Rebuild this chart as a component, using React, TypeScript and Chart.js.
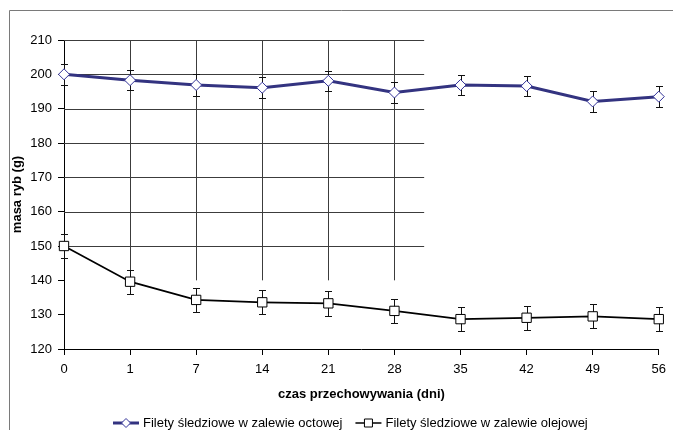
import React, { useEffect, useRef } from "react";
import { Chart, registerables } from "chart.js";

Chart.register(...registerables);

const days = ["0", "1", "7", "14", "21", "28", "35", "42", "49", "56"];
const octowa = [200, 198.3, 196.9, 196.1, 198.1, 194.7, 196.9, 196.6, 192.1, 193.5];
const octowaErr = [3, 3, 3.1, 3, 3, 3, 3, 3, 3.1, 3];
const olejowa = [150, 139.6, 134.3, 133.6, 133.3, 131.1, 128.7, 129.1, 129.5, 128.7];
const olejowaErr = [3.5, 3.5, 3.5, 3.5, 3.6, 3.5, 3.5, 3.5, 3.5, 3.5];
const labelOctowa = "Filety śledziowe w zalewie octowej";
const labelOlejowa = "Filety śledziowe w zalewie olejowej";
const yTitle = "masa ryb (g)";
const xTitle = "czas przechowywania (dni)";

const FONT = "Arial, 'Liberation Sans', sans-serif";
const NAVY = "#333380";

// partial grid region (as in the original Excel picture)
const gridHLines = [150, 160, 170, 180, 190, 200, 210];
const gridXEnd = 5.45;
const gridVBottom = 140;
const gridVCount = 5;

const errors = [octowaErr, olejowaErr];

const bgPlugin = {
  id: "frameAndGrid",
  beforeDraw(chart: any) {
    const ctx = chart.ctx;
    ctx.save();
    ctx.fillStyle = "#fff";
    ctx.fillRect(0, 0, chart.width, chart.height);
    ctx.strokeStyle = "#7a7a7a";
    ctx.lineWidth = 1;
    ctx.beginPath();
    ctx.moveTo(9.5, chart.height + 2);
    ctx.lineTo(9.5, 10.5);
    ctx.lineTo(chart.width + 2, 10.5);
    ctx.stroke();
    ctx.restore();
  },
  beforeDatasetsDraw(chart: any) {
    const ctx = chart.ctx;
    const xs = chart.scales.x;
    const ys = chart.scales.y;
    ctx.save();
    ctx.strokeStyle = "#3c3c3c";
    ctx.lineWidth = 1;
    const x0 = xs.getPixelForValue(0);
    const x1 = xs.getPixelForValue(gridXEnd);
    gridHLines.forEach((v) => {
      const y = Math.round(ys.getPixelForValue(v)) + 0.5;
      ctx.beginPath();
      ctx.moveTo(x0, y);
      ctx.lineTo(x1, y);
      ctx.stroke();
    });
    for (let i = 1; i <= gridVCount; i++) {
      const x = Math.round(xs.getPixelForValue(i)) + 0.5;
      ctx.beginPath();
      ctx.moveTo(x, ys.getPixelForValue(210));
      ctx.lineTo(x, ys.getPixelForValue(gridVBottom));
      ctx.stroke();
    }
    // error bars
    ctx.strokeStyle = "#111";
    chart.data.datasets.forEach((ds: any, di: number) => {
      const meta = chart.getDatasetMeta(di);
      meta.data.forEach((pt: any, i: number) => {
        const v = ds.data[i];
        const e = errors[di][i];
        const x = Math.round(pt.x) + 0.5;
        const yt = Math.round(ys.getPixelForValue(v + e)) + 0.5;
        const yb = Math.round(ys.getPixelForValue(v - e)) + 0.5;
        ctx.beginPath();
        ctx.moveTo(x, yt);
        ctx.lineTo(x, yb);
        ctx.moveTo(x - 3.5, yt);
        ctx.lineTo(x + 3.5, yt);
        ctx.moveTo(x - 3.5, yb);
        ctx.lineTo(x + 3.5, yb);
        ctx.stroke();
      });
    });
    ctx.restore();
  },
  afterDraw(chart: any) {
    const ctx = chart.ctx;
    const area = chart.chartArea;
    ctx.save();
    ctx.font = `13px ${FONT}`;
    ctx.textBaseline = "middle";
    ctx.fillStyle = "#000";
    const markerW = 26;
    const gap = 4;
    const itemGap = 13;
    const items = [
      { text: labelOctowa, color: NAVY, lw: 3, shape: "diamond" },
      { text: labelOlejowa, color: "#000", lw: 1.5, shape: "square" },
    ];
    const widths = items.map((it) => markerW + gap + ctx.measureText(it.text).width);
    const total = widths[0] + widths[1] + itemGap;
    const cx = (area.left + area.right) / 2 - 11;
    let x = cx - total / 2;
    const y = 423;
    items.forEach((it, k) => {
      ctx.strokeStyle = it.color;
      ctx.lineWidth = it.lw;
      ctx.beginPath();
      ctx.moveTo(x, y);
      ctx.lineTo(x + markerW, y);
      ctx.stroke();
      const mx = x + markerW / 2;
      ctx.lineWidth = 1;
      ctx.fillStyle = "#fff";
      ctx.beginPath();
      if (it.shape === "diamond") {
        ctx.strokeStyle = "#333399";
        ctx.moveTo(mx, y - 4.5);
        ctx.lineTo(mx + 4.5, y);
        ctx.lineTo(mx, y + 4.5);
        ctx.lineTo(mx - 4.5, y);
        ctx.closePath();
      } else {
        ctx.rect(mx - 4, y - 4, 8, 8);
      }
      ctx.fill();
      ctx.stroke();
      ctx.fillStyle = "#000";
      ctx.fillText(it.text, x + markerW + gap, y);
      x += widths[k] + itemGap;
    });
    ctx.restore();
  },
};

export default function App() {
  const ref = useRef<HTMLCanvasElement>(null);
  useEffect(() => {
    document.body.style.margin = "0";
    const chart = new Chart(ref.current!, {
      type: "line",
      data: {
        labels: days,
        datasets: [
          {
            label: labelOctowa,
            data: octowa,
            borderColor: NAVY,
            borderWidth: 3,
            pointStyle: "rectRot",
            pointRadius: 5.5,
            pointBackgroundColor: "#fff",
            pointBorderColor: "#333399",
            pointBorderWidth: 1,
            tension: 0,
          },
          {
            label: labelOlejowa,
            data: olejowa,
            borderColor: "#000",
            borderWidth: 1.75,
            pointStyle: "rect",
            pointRadius: 6.6,
            pointBackgroundColor: "#fff",
            pointBorderColor: "#000",
            pointBorderWidth: 1,
            tension: 0,
          },
        ],
      },
      options: {
        animation: false,
        responsive: false,
        layout: { padding: { left: 9, top: 40, right: 12, bottom: 27 } },
        plugins: { legend: { display: false }, tooltip: { enabled: false } },
        scales: {
          x: {
            type: "category",
            offset: false,
            grid: { drawOnChartArea: false, color: "#000", tickLength: 6, tickColor: "#000" },
            border: { color: "#000", width: 1 },
            ticks: { color: "#000", font: { family: FONT, size: 13 }, padding: 7, maxRotation: 0, autoSkip: false },
            title: {
              display: true,
              text: xTitle,
              color: "#000",
              font: { family: FONT, size: 13, weight: "bold" },
              padding: { top: 0, bottom: 1 },
            },
            afterFit(scale: any) {
              scale.height = 54;
            },
          },
          y: {
            min: 120,
            max: 210,
            grid: { drawOnChartArea: false, color: "#000", tickLength: 6, tickColor: "#000" },
            border: { color: "#000", width: 1 },
            ticks: { stepSize: 10, color: "#000", font: { family: FONT, size: 13 }, padding: 6 },
            title: {
              display: true,
              text: yTitle,
              color: "#000",
              font: { family: FONT, size: 13, weight: "bold" },
              padding: { top: 1, bottom: 0 },
            },
            afterFit(scale: any) {
              scale.width = 55;
            },
          },
        },
      },
      plugins: [bgPlugin],
    });
    return () => chart.destroy();
  }, []);
  return (
    <div style={{ width: 673, height: 430 }}>
      <canvas ref={ref} width={673} height={430} />
    </div>
  );
}
